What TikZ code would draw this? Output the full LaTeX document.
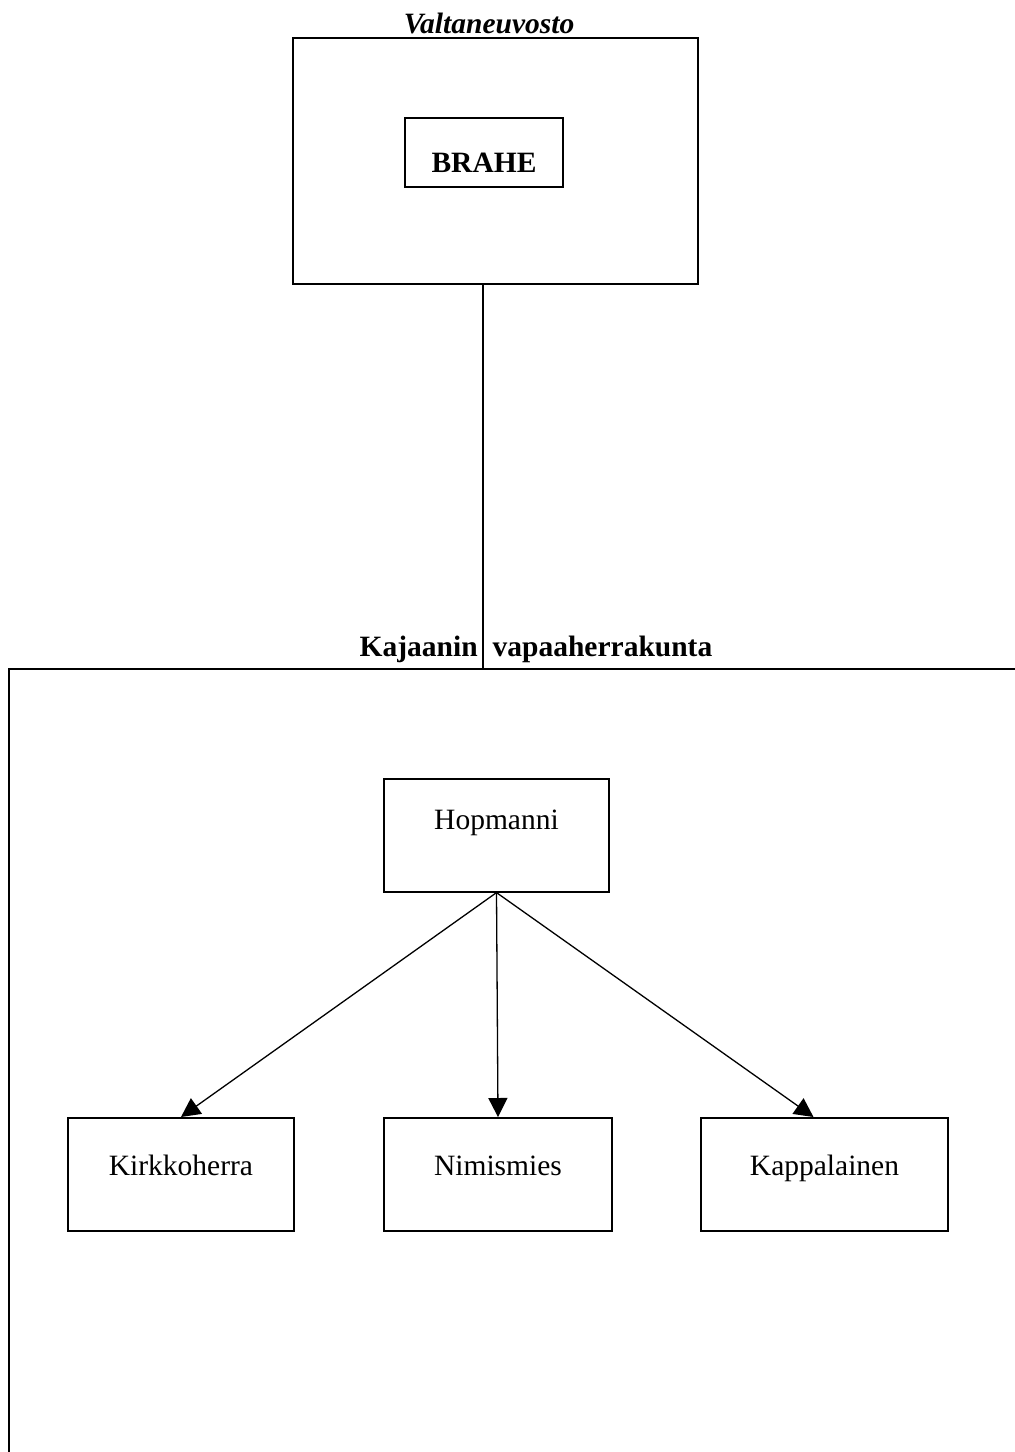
\documentclass[tikz,border=0pt]{standalone}
\usepackage{fontspec}
\setmainfont{Liberation Serif}
\usetikzlibrary{arrows.meta,positioning}

\tikzset{
    box/.style={draw, line width=1.6pt, inner sep=0pt},
    lowbox/.style={box, anchor=north, text height=58pt, text depth=55pt},
    title/.style={font=\fontsize{29.5}{34}\selectfont\bfseries},
    arrow/.style={line width=1.3pt, -{Triangle[length=19pt,width=19pt]}}
}

\begin{document}
\begin{tikzpicture}[x=1pt,y=-1pt,font=\fontsize{29.5}{34}\selectfont]
    \useasboundingbox (0,0) rectangle (1015,1452);
    \clip (0,0) rectangle (1015,1452);

    % Valtaneuvosto
    \node[box, minimum width=405pt, minimum height=246pt] (valta) at (495.5,161) {};
    \node[title, font=\fontsize{29.5}{34}\selectfont\bfseries\itshape, anchor=base] (valtatitle) at (489,33) {Valtaneuvosto};
    \node[box, title, anchor=north, minimum width=158pt, text height=55pt, text depth=14pt] (brahe) at (484,117) {BRAHE};

    % Kajaanin vapaaherrakunta
    \node[box, anchor=north west, minimum width=1100pt, minimum height=900pt] (vapaa) at (8,668) {};
    \node[title, anchor=base] (vapaatitle) at (536,656) {Kajaanin\hspace{15pt}vapaaherrakunta};

    \coordinate (link) at (483,284);
    \draw[line width=1.3pt] (link) -- (link |- vapaa.north);

    \node[box, anchor=north, minimum width=225pt, text height=51pt, text depth=62pt] (hop) at (496.5,778) {Hopmanni};
    \node[lowbox, minimum width=226pt] (kirk) at (181,1117) {Kirkkoherra};
    \node[lowbox, minimum width=228pt] (nim) at (498,1117) {Nimismies};
    \node[lowbox, minimum width=247pt] (kapp) at (824.5,1117) {Kappalainen};

    \foreach \t in {kirk,nim} \draw[arrow] (hop.south) -- (\t.north);
    \draw[arrow] (hop.south) -- ([xshift=-11pt]kapp.north);
\end{tikzpicture}
\end{document}
